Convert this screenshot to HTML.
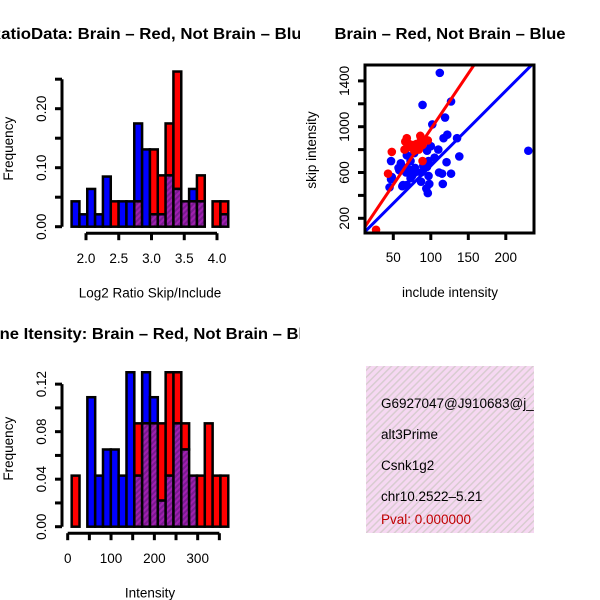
<!DOCTYPE html>
<html><head><meta charset="utf-8"><style>
html,body{margin:0;padding:0;background:#fff;}
svg{display:block;font-family:"Liberation Sans",sans-serif;}
</style></head><body>
<svg id="c" width="600" height="600" xmlns="http://www.w3.org/2000/svg">
<defs>
<pattern id="hatch" patternUnits="userSpaceOnUse" width="4" height="4" patternTransform="rotate(45)">
<rect width="4" height="4" fill="#a020b0"/><rect width="2" height="4" fill="#7a1a90"/>
</pattern>
<pattern id="pinkhatch" patternUnits="userSpaceOnUse" width="5" height="5" patternTransform="rotate(45)">
<rect width="5" height="5" fill="#f6d8f2"/><rect width="1.5" height="5" fill="#d8ccd0"/>
</pattern>
<clipPath id="clipL"><rect x="0" y="0" width="300" height="600"/></clipPath>
<clipPath id="clipS"><rect x="365" y="65" width="169" height="168"/></clipPath>
</defs>
<g id="g1"></g>
<g id="g2"></g>
<g id="g3"></g>
<g>
<rect x="366" y="366" width="168" height="167" fill="url(#pinkhatch)"/>
<svg x="366" y="366" width="168" height="167"><g font-size="13.5">
<text x="15" y="42">G6927047@J910683@j_</text>
<text x="15" y="73">alt3Prime</text>
<text x="15" y="104">Csnk1g2</text>
<text x="15" y="135">chr10.2522–5.21</text>
<text x="15" y="158" fill="#c00000">Pval: 0.000000</text>
</g></svg>
</g>
</svg>
<script>
// Ratio histogram data
const ratioBlue=[0.043,0.021,0.064,0.021,0.085,0,0.043,0.043,0.175,0.131,0.021,0.021,0.087,0.064,0.043,0.064,0.043,0,0,0.021];
const ratioRed=[0,0,0,0,0,0.043,0,0,0.043,0,0.131,0.087,0.175,0.263,0.043,0.043,0.087,0,0.043,0.043];
const ratioStart=1.78, ratioWidth=0.1196;
const ratioXTicks=[2.0,2.5,3.0,3.5,4.0];
const ratioXLabels=["2.0","2.5","3.0","3.5","4.0"];
const ratioYTicks=[0,0.05,0.10,0.15,0.20,0.25];
const ratioYLabels=["0.00","","0.10","","0.20",""];
// Intensity histogram data
const intBlue=[0,0,0.109,0.043,0.065,0.065,0.043,0.13,0.043,0.13,0.109,0.022,0.043,0.087,0.065,0.043,0,0,0,0];
const intRed=[0.043,0,0,0,0,0,0,0,0.087,0.087,0.087,0.087,0.13,0.13,0.087,0.043,0.043,0.087,0.043,0.043];
const intStart=9.2, intWidth=18.07;
const intXTicks=[0,50,100,150,200,250,300,350];
const intXLabels=["0","","100","","200","","300",""];
const intYTicks=[0,0.02,0.04,0.06,0.08,0.10,0.12];
const intYLabels=["0.00","","0.04","","0.08","","0.12"];
// Scatter data
const blueX=[112,89,127,119,102,122,117,135,100,110,105,97,138,47,60,57,68,78,73,65,70,79,90,95,121,111,115,127,97,79,75,73,67,48,47,45,63,68,87,98,116,94,96,230,95,87,58,62];
const blueY=[1470,1190,1220,1080,1020,930,900,900,830,800,730,700,740,700,680,640,750,770,700,640,630,640,660,650,690,600,590,590,570,600,570,550,600,560,540,470,490,490,520,500,500,460,420,790,790,600,620,480];
const redX=[48,43,27,68,66,71,76,81,86,87,84,82,89,96,89,65,78,70,81];
const redY=[780,590,100,900,870,850,840,810,920,900,800,840,840,880,700,800,790,820,850];
const blueFit=[3,6.55]; // intercept, slope
const redFit=[8,9.71];
const scXTicks=[50,100,150,200], scXLabels=["50","100","150","200"];
const scYTicks=[200,400,600,800,1000,1200,1400], scYLabels=["200","","600","","1000","","1400"];

const NS="http://www.w3.org/2000/svg";
const FS=13.5;
function mk(parent,tag,attrs){const e=document.createElementNS(NS,tag);for(const k in attrs)e.setAttribute(k,attrs[k]);parent.appendChild(e);return e;}

function hist(g,o){
  const sx=v=>o.x0+(v-o.xv0)*o.kx, sy=v=>o.y0-v*o.ky;
  const clip=mk(g,'g',{'clip-path':'url(#clipL)'});
  const t=mk(clip,'text',{x:150-o.tw/2,y:o.ty,'font-size':16,'font-weight':'bold',textLength:o.tw,lengthAdjust:'spacingAndGlyphs'});
  t.textContent=o.title;
  
  
  for(let i=0;i<o.blue.length;i++){
    const a=sx(o.start+i*o.w), b=sx(o.start+(i+1)*o.w);
    const bl=o.blue[i], rd=o.red[i], mn=Math.min(bl,rd), mx=Math.max(bl,rd);
    if(mx<=0)continue;
    const top=mk(g,'rect',{x:a,y:sy(mx),width:b-a,height:sy(mn)-sy(mx),fill:bl>rd?'#0000ff':'#ff0000',stroke:'#000','stroke-width':2.5});
    
    
    if(mn>0){
      const r=mk(g,'rect',{x:a,y:sy(mn),width:b-a,height:sy(0)-sy(mn),fill:'url(#hatch)',stroke:'#000','stroke-width':2.5});
      
      
    }
  }
  const ya=mk(g,'g',{});
  
  
  const yt=o.yTicks;
  mk(ya,'line',{x1:62,x2:62,y1:sy(yt[0]),y2:sy(yt[yt.length-1]),stroke:'#000','stroke-width':3});
  yt.forEach((v,i)=>{mk(ya,'line',{x1:55,x2:62,y1:sy(v),y2:sy(v),stroke:'#000','stroke-width':3});
    if(o.yLabels[i]){const l=mk(ya,'text',{x:0,y:0,'font-size':FS,'text-anchor':'middle',transform:`translate(46,${sy(v)}) rotate(-90)`});l.textContent=o.yLabels[i];
    
    }});
  const xa=mk(g,'g',{});
  
  
  const xt=o.xTicks, ax=o.y0+6.5;
  mk(xa,'line',{x1:sx(xt[0]),x2:sx(xt[xt.length-1]),y1:ax,y2:ax,stroke:'#000','stroke-width':3});
  xt.forEach((v,i)=>{mk(xa,'line',{x1:sx(v),x2:sx(v),y1:ax,y2:ax+7,stroke:'#000','stroke-width':3});
    if(o.xLabels[i]){const l=mk(xa,'text',{x:sx(v),y:ax+30,'font-size':FS,'text-anchor':'middle'});l.textContent=o.xLabels[i];
    
    }});
  const xl=mk(g,'text',{x:150,y:o.y0+71,'font-size':FS,'text-anchor':'middle'});xl.textContent=o.xTitle;
  
  
  const yl=mk(g,'text',{x:0,y:0,'font-size':FS,'text-anchor':'middle',transform:`translate(13,${o.y0-78}) rotate(-90)`});yl.textContent='Frequency';
  
  
}
hist(document.getElementById('g1'),{title:'RatioData: Brain – Red, Not Brain – Blue',ty:39,tw:322,blue:ratioBlue,red:ratioRed,start:ratioStart,w:ratioWidth,
  x0:86,xv0:2.0,kx:65.5,y0:226.7,ky:590,xTicks:ratioXTicks,xLabels:ratioXLabels,yTicks:ratioYTicks,yLabels:ratioYLabels,xTitle:'Log2 Ratio Skip/Include'});
hist(document.getElementById('g3'),{title:'Gene Itensity: Brain – Red, Not Brain – Blue',ty:339,tw:345,blue:intBlue,red:intRed,start:intStart,w:intWidth,
  x0:67.7,xv0:0,kx:0.4333,y0:526.7,ky:1188,xTicks:intXTicks,xLabels:intXLabels,yTicks:intYTicks,yLabels:intYLabels,xTitle:'Intensity'});

(function(){
  const g=document.getElementById('g2');
  const sx=v=>393.3+(v-50)*0.75, sy=v=>218.3-(v-200)*45.8/400;
  const t=mk(g,'text',{x:450-115.5,y:39,'font-size':16,'font-weight':'bold',textLength:231,lengthAdjust:'spacingAndGlyphs'});t.textContent='Brain – Red, Not Brain – Blue';
  
  
  const pts=mk(g,'g',{'clip-path':'url(#clipS)'});
  blueX.forEach((x,i)=>{const c=mk(pts,'circle',{cx:sx(x),cy:sy(blueY[i]),r:4.3,fill:'#0000ff'});
    
    });
  redX.forEach((x,i)=>{const c=mk(pts,'circle',{cx:sx(x),cy:sy(redY[i]),r:4.3,fill:'#ff0000'});
    
    });
  [[blueFit,'#0000ff','blue-fit-line'],[redFit,'#ff0000','red-fit-line']].forEach(([f,col,n])=>{
    const x1=0,x2=260;
    const l=mk(pts,'line',{x1:sx(x1),y1:sy(f[0]+f[1]*x1),x2:sx(x2),y2:sy(f[0]+f[1]*x2),stroke:col,'stroke-width':3});
    
    });
  const box=mk(g,'rect',{x:365,y:65,width:169,height:168,fill:'none',stroke:'#000','stroke-width':3});
  
  
  scXTicks.forEach((v,i)=>{mk(g,'line',{x1:sx(v),x2:sx(v),y1:233,y2:240,stroke:'#000','stroke-width':3});
    const l=mk(g,'text',{x:sx(v),y:262,'font-size':FS,'text-anchor':'middle'});l.textContent=scXLabels[i];
    
    });
  scYTicks.forEach((v,i)=>{mk(g,'line',{x1:358,x2:365,y1:sy(v),y2:sy(v),stroke:'#000','stroke-width':3});
    if(scYLabels[i]){const l=mk(g,'text',{x:0,y:0,'font-size':FS,'text-anchor':'middle',transform:`translate(349,${sy(v)}) rotate(-90)`});l.textContent=scYLabels[i];
    
    }});
  const xl=mk(g,'text',{x:450,y:297,'font-size':FS,'text-anchor':'middle'});xl.textContent='include intensity';
  
  
  const yl=mk(g,'text',{x:0,y:0,'font-size':FS,'text-anchor':'middle',transform:'translate(316,150) rotate(-90)'});yl.textContent='skip intensity';
  
  
})();
</script>
</body></html>
